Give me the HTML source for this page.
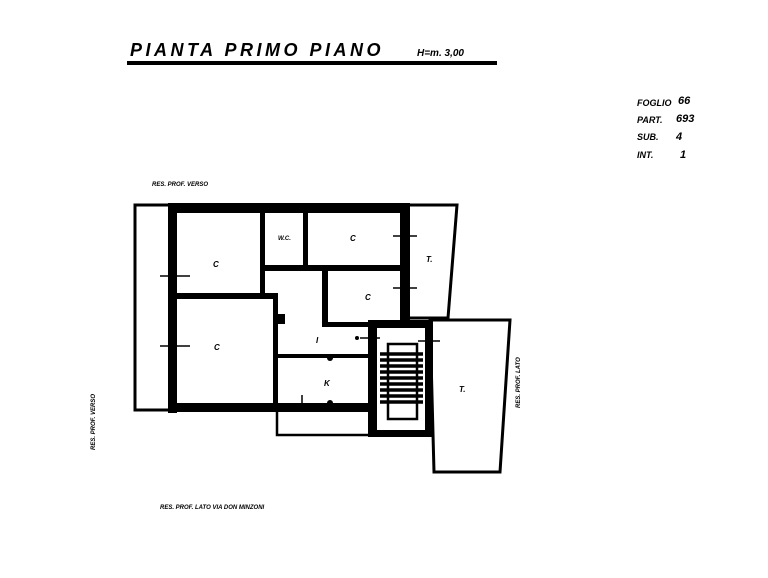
<!DOCTYPE html>
<html><head><meta charset="utf-8"><style>
html,body{margin:0;padding:0;background:#fff;}
svg{display:block}
text{font-family:"Liberation Sans",sans-serif;font-weight:bold;font-style:italic;fill:#000}
</style></head><body>
<svg width="768" height="578" viewBox="0 0 768 578" xmlns="http://www.w3.org/2000/svg">
<!-- title -->
<text x="130" y="56" font-size="18" letter-spacing="3.5">PIANTA  PRIMO  PIANO</text>
<text x="417" y="56" font-size="10">H=m. 3,00</text>
<rect x="127" y="61" width="370" height="4" fill="#000"/>
<!-- right info -->
<g font-size="9">
<text x="637" y="106">FOGLIO</text><text x="678" y="104" font-size="11">66</text>
<text x="637" y="123">PART.</text><text x="676" y="122" font-size="11">693</text>
<text x="637" y="140">SUB.</text><text x="676" y="140" font-size="11">4</text>
<text x="637" y="158">INT.</text><text x="680" y="158" font-size="11">1</text>
</g>
<g font-size="6">
<text x="152" y="186">RES. PROF. VERSO</text>
<text x="160" y="509">RES. PROF. LATO VIA DON MINZONI</text>
<text transform="translate(95,450) rotate(-90)">RES. PROF. VERSO</text>
<text transform="translate(520,408) rotate(-90)">RES. PROF. LATO</text>
</g>
<g fill="none" stroke="#000">
<rect x="135" y="205" width="36" height="205" stroke-width="3"/>
<polygon points="407,205 457,205 448,318 407,318" stroke-width="3"/>
<polygon points="430,320 510,320 500,472 434,472" stroke-width="3"/>
<rect x="277" y="405" width="93" height="30" stroke-width="2.5"/>
</g>
<g fill="#000">
<rect x="168" y="203" width="242" height="10"/>
<rect x="168" y="203" width="9" height="210"/>
<rect x="168" y="403" width="205" height="9"/>
<rect x="400" y="203" width="10" height="120"/>
<rect x="260" y="213" width="5" height="80"/>
<rect x="303" y="213" width="5" height="55"/>
<rect x="265" y="265" width="135" height="6"/>
<rect x="177" y="293" width="100" height="6"/>
<rect x="273" y="293" width="5" height="115"/>
<rect x="278" y="354" width="92" height="4"/>
<rect x="322" y="271" width="6" height="56"/>
<rect x="322" y="322" width="50" height="5"/>
<rect x="368" y="320" width="64" height="8"/>
<rect x="368" y="320" width="9" height="117"/>
<rect x="425" y="320" width="8" height="117"/>
<rect x="368" y="430" width="64" height="7"/>
<rect x="277" y="314" width="8" height="10"/>
<circle cx="330" cy="358" r="3"/><circle cx="330" cy="403" r="3"/>
</g>
<g stroke="#000" fill="none">
<rect x="388" y="344" width="29" height="75" stroke-width="2.5"/>
<g stroke-width="3.5">
<line x1="380" y1="354" x2="423" y2="354"/><line x1="380" y1="360" x2="423" y2="360"/>
<line x1="380" y1="366" x2="423" y2="366"/><line x1="380" y1="372" x2="423" y2="372"/>
<line x1="380" y1="378" x2="423" y2="378"/><line x1="380" y1="384" x2="423" y2="384"/>
<line x1="380" y1="390" x2="423" y2="390"/><line x1="380" y1="396" x2="423" y2="396"/>
<line x1="380" y1="402" x2="423" y2="402"/>
</g>
<g stroke-width="1.5">
<line x1="160" y1="276" x2="190" y2="276"/><line x1="160" y1="346" x2="190" y2="346"/>
<line x1="393" y1="236" x2="417" y2="236"/><line x1="393" y1="288" x2="417" y2="288"/>
<line x1="360" y1="338" x2="380" y2="338"/><line x1="418" y1="341" x2="440" y2="341"/>
<line x1="302" y1="395" x2="302" y2="412"/>
</g>
</g>
<circle cx="357" cy="338" r="2" fill="#000"/>
<g font-size="8">
<text x="213" y="267">C</text>
<text x="278" y="240" font-size="6">W.C.</text>
<text x="350" y="241">C</text>
<text x="426" y="262">T.</text>
<text x="365" y="300">C</text>
<text x="214" y="350">C</text>
<text x="316" y="343">I</text>
<text x="324" y="386">K</text>
<text x="459" y="392">T.</text>
</g>
</svg>
</body></html>
